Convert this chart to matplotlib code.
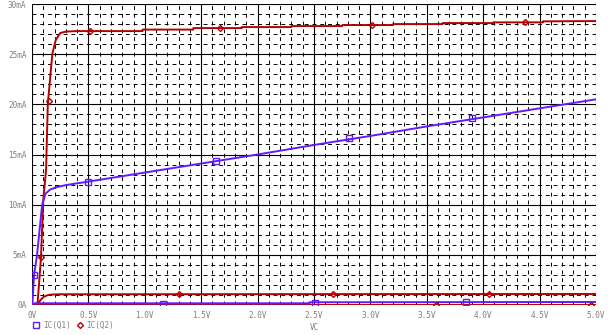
import matplotlib.pyplot as plt
from matplotlib.lines import Line2D

# IC(Q1) traces (blue), volts / mA
q1_hi_v = [0, 0.005, 0.018, 0.045, 0.07, 0.09, 0.12, 0.16, 0.22, 0.3, 0.5, 1.0, 1.5, 2.0, 2.5, 3.0, 3.5, 4.0, 4.5, 5.0]
q1_hi_i = [0, 0.3, 3.0, 5.0, 7.8, 10.0, 11.1, 11.5, 11.75, 11.95, 12.3, 13.2, 14.1, 15.0, 15.95, 16.85, 17.8, 18.7, 19.6, 20.5]
q1_lo_v = [0, 0.02, 2.46, 2.46, 5.0]
q1_lo_i = [0, 0.17, 0.17, 0.27, 0.3]

# IC(Q2) traces (red)
q2_hi_v = [0, 0.04, 0.05, 0.065, 0.08, 0.10, 0.125, 0.14, 0.18, 0.21, 0.25, 0.3, 0.4,
           0.98, 0.98, 1.43, 1.43, 1.86, 1.86, 2.3, 2.3, 2.75, 2.75, 3.2, 3.2,
           3.64, 3.64, 4.09, 4.09, 4.53, 4.53, 5.0]
q2_hi_i = [0, 0, 0.3, 2.5, 4.8, 10.5, 13.5, 20.0, 25.0, 26.4, 27.1, 27.25, 27.3,
           27.3, 27.45, 27.45, 27.6, 27.6, 27.7, 27.7, 27.8, 27.8, 27.9, 27.9, 28.0,
           28.0, 28.1, 28.1, 28.17, 28.17, 28.27, 28.3]
q2_mid_v = [0, 0.04, 0.06, 0.08, 0.10, 0.13, 0.16, 0.25, 5.0]
q2_mid_i = [0, 0, 0.25, 0.55, 0.78, 0.95, 1.03, 1.07, 1.1]
q2_lo_v = [0, 5.0]
q2_lo_i = [0, 0]

# marker positions
q1_mk_v = [0.018, 0.5, 1.63, 2.81, 3.90, 1.16, 2.51, 3.85]
q1_mk_i = [3.0, 12.3, 14.4, 16.6, 18.6, 0.1, 0.2, 0.27]
q2_mk_v = [0.08, 0.15, 0.51, 1.67, 3.01, 4.37, 1.3, 2.67, 4.05, 3.58, 4.96]
q2_mk_i = [4.8, 20.3, 27.3, 27.6, 27.9, 28.2, 1.07, 1.09, 1.12, 0, 0]

x_ticks = [0, 0.5, 1.0, 1.5, 2.0, 2.5, 3.0, 3.5, 4.0, 4.5, 5.0]
x_labels = ['0V', '0.5V', '1.0V', '1.5V', '2.0V', '2.5V', '3.0V', '3.5V', '4.0V', '4.5V', '5.0V']
y_ticks = [0, 5, 10, 15, 20, 25, 30]
y_labels = ['0A', '5mA', '10mA', '15mA', '20mA', '25mA', '30mA']

blue = '#6419ff'
red = '#b40000'
grey = '#808080'
mono = 'DejaVu Sans Mono'

fig = plt.figure(figsize=(6.12, 3.35), dpi=100)
ax = fig.add_axes([32 / 612, 30 / 335, 564 / 612, 301 / 335])

# grid
for i in range(51):
    v = i * 0.1
    if i % 5 == 0:
        ax.axvline(v, color='black', lw=0.8, zorder=1)
    else:
        ax.axvline(v, color='black', lw=0.7, ls=(0, (4, 4)), zorder=1)
for i in range(31):
    if i % 5 == 0:
        ax.axhline(i, color='black', lw=0.8, zorder=1)
    else:
        ax.axhline(i, color='black', lw=0.7, ls=(0, (4, 4)), zorder=1)

ax.plot(q2_hi_v, q2_hi_i, color=red, lw=1.4, zorder=3)
ax.plot(q2_mid_v, q2_mid_i, color=red, lw=1.4, zorder=3)
ax.plot(q2_lo_v, q2_lo_i, color=red, lw=1.4, zorder=3)
ax.plot(q1_hi_v, q1_hi_i, color=blue, lw=1.4, zorder=4)
ax.plot(q1_lo_v, q1_lo_i, color=blue, lw=1.4, zorder=4)

ax.plot(q1_mk_v, q1_mk_i, ls='none', marker='s', ms=4, mfc='none', mec=blue, mew=1.0, zorder=5)
ax.plot(q2_mk_v, q2_mk_i, ls='none', marker='D', ms=3, mfc='none', mec=red, mew=1.0, zorder=5)

ax.set_xlim(0, 5.0)
ax.set_ylim(0, 30)
ax.set_xticks(x_ticks)
ax.set_xticklabels(x_labels)
ax.set_yticks(y_ticks)
ax.set_yticklabels(y_labels)
ax.tick_params(length=0, labelsize=5.5, labelcolor=grey, pad=4)
for lab in ax.get_xticklabels() + ax.get_yticklabels():
    lab.set_family(mono)
for s in ax.spines.values():
    s.set_visible(False)

fig.text(314 / 612, 7 / 335, 'VC', fontsize=5.5, color=grey, family=mono,
         ha='center', va='center')

handles = [Line2D([], [], ls='none', marker='s', ms=4, mfc='none', mec=blue, mew=1.0),
           Line2D([], [], ls='none', marker='D', ms=3, mfc='none', mec=red, mew=1.0)]
leg = ax.legend(handles, ['IC(Q1)', 'IC(Q2)'], ncol=2, loc='upper left',
                bbox_to_anchor=(-0.005, -0.04), frameon=False,
                prop={'family': mono, 'size': 5.5}, handlelength=0.8,
                handletextpad=0.5, columnspacing=0.8, borderpad=0)
for t in leg.get_texts():
    t.set_color(grey)

fig.savefig('out.png', dpi=100)
